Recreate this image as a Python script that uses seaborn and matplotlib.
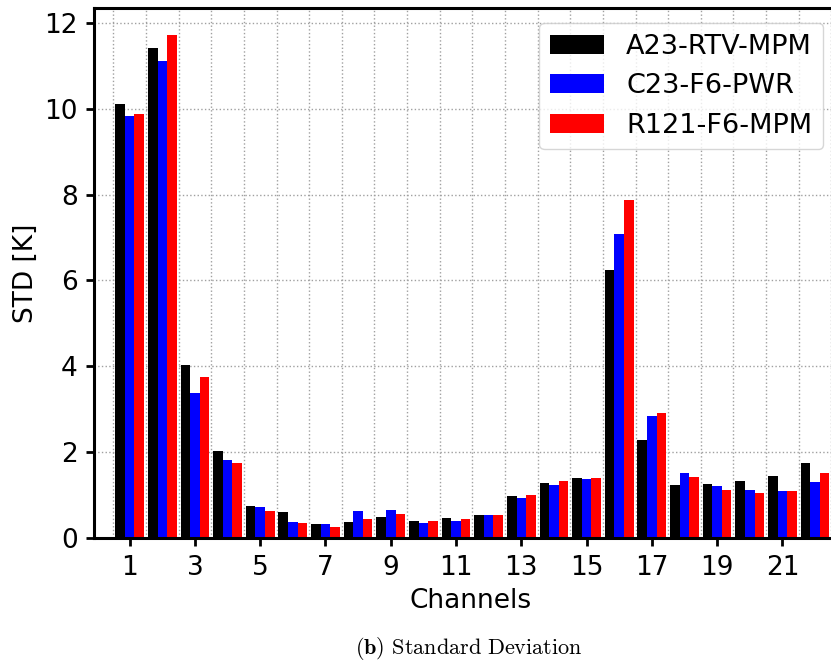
import numpy as np
import pandas as pd
import matplotlib
matplotlib.use("Agg")
import matplotlib.pyplot as plt
import seaborn as sns
from matplotlib.ticker import FixedLocator

channels = list(range(1, 23))
series_names = ["A23-RTV-MPM", "C23-F6-PWR", "R121-F6-MPM"]
a23_rtv_mpm = [10.12, 11.42, 4.04, 2.02, 0.75, 0.60, 0.32, 0.37, 0.48, 0.39, 0.46,
               0.53, 0.98, 1.29, 1.40, 6.25, 2.28, 1.24, 1.26, 1.33, 1.45, 1.75]
c23_f6_pwr = [9.83, 11.11, 3.37, 1.81, 0.72, 0.37, 0.32, 0.63, 0.65, 0.34, 0.39,
              0.53, 0.94, 1.24, 1.38, 7.09, 2.84, 1.52, 1.22, 1.12, 1.10, 1.31]
r121_f6_mpm = [9.88, 11.71, 3.75, 1.74, 0.63, 0.34, 0.25, 0.44, 0.56, 0.39, 0.44,
               0.54, 1.01, 1.33, 1.40, 7.87, 2.92, 1.43, 1.12, 1.05, 1.10, 1.52]
tick_channels = [1, 3, 5, 7, 9, 11, 13, 15, 17, 19, 21]
colors = ["#000000", "#0000ff", "#ff0000"]

df = pd.DataFrame({
    "Channel": channels * 3,
    "Model": [series_names[0]] * 22 + [series_names[1]] * 22 + [series_names[2]] * 22,
    "STD": a23_rtv_mpm + c23_f6_pwr + r121_f6_mpm,
})

plt.rcParams["font.family"] = ["DejaVu Sans"]
plt.rcParams["mathtext.fontset"] = "cm"

fig = plt.figure(figsize=(8.31, 6.64), dpi=100)
ax = fig.add_axes([0.1135, 0.1898, 0.905, 0.7977])

sns.barplot(data=df, x="Channel", y="STD", hue="Model", order=channels,
            hue_order=series_names, palette=colors, saturation=1,
            width=0.88, errorbar=None, linewidth=0, ax=ax)

ax.set_xlim(-1.083, 21.96)
ax.set_ylim(0, 12.34)
ax.set_xticks([channels.index(c) for c in tick_channels])
ax.set_xticklabels([str(c) for c in tick_channels])
ax.xaxis.set_minor_locator(FixedLocator(np.arange(-0.5, 22, 1.0)))
ax.set_yticks([0, 2, 4, 6, 8, 10, 12])

ax.grid(False)
ax.grid(True, which="minor", axis="x", linestyle=":", color="#a0a0a0", linewidth=1.0)
ax.grid(True, which="major", axis="y", linestyle=":", color="#a0a0a0", linewidth=1.0)
ax.set_axisbelow(True)

ax.tick_params(axis="both", which="major", labelsize=19, length=6, width=2, pad=6)
ax.tick_params(axis="x", which="minor", length=0)
for s in ax.spines.values():
    s.set_linewidth(2.2)

ax.set_xlabel("Channels", fontsize=19, labelpad=5)
ax.set_ylabel("STD [K]", fontsize=19, labelpad=3.5)

ax.legend(loc="upper right", bbox_to_anchor=(0.9904, 0.9658),
          bbox_transform=fig.transFigure, borderaxespad=0, fontsize=19.5)

fig.text(0.564, 0.0226, r"$\mathbf{(b)}$ $\mathrm{Standard\ Deviation}$",
         ha="center", va="center", fontsize=16)

fig.savefig("out.png", dpi=100)
